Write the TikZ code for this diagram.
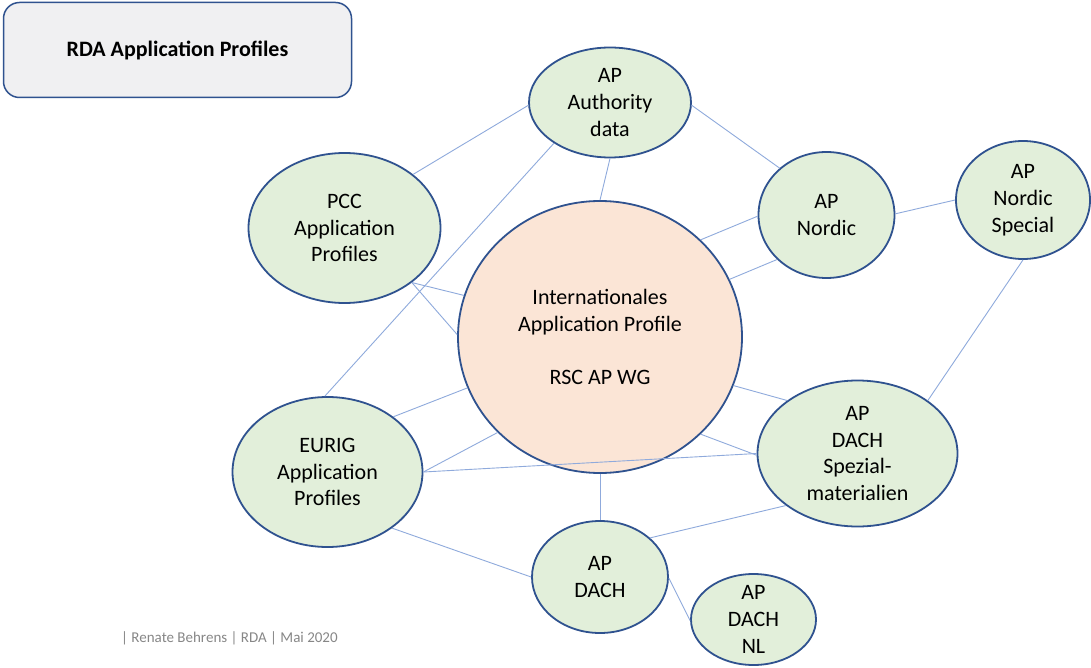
\documentclass[tikz,border=0pt]{standalone}
\usepackage{fontspec}
\setmainfont{Carlito}
\usetikzlibrary{shapes.geometric}
\definecolor{bord}{RGB}{47,82,143}
\definecolor{greenfill}{RGB}{226,239,218}
\definecolor{peach}{RGB}{251,229,214}
\definecolor{conn}{RGB}{143,170,220}
\definecolor{boxfill}{RGB}{240,240,242}
\definecolor{foot}{RGB}{135,135,135}
\begin{document}
\begin{tikzpicture}[x=1pt,y=-1pt,
  bubble/.style={ellipse, draw=bord, line width=1.8pt, fill=greenfill, inner sep=0pt},
  hub/.style={bubble, fill=peach},
  txt/.style={align=center, font=\fontsize{22}{26.8}\selectfont, inner sep=0pt},
  link/.style={draw=conn, line width=0.9pt}]
\useasboundingbox (0,0) rectangle (1091,668);
\fill[white] (0,0) rectangle (1091,668);
% title
\node[draw=bord, line width=1.5pt, fill=boxfill, rounded corners=16pt,
  minimum width=348pt, minimum height=95pt, inner sep=0pt] (title) at (177.5,50) {};
\node[font=\fontsize{22}{26.8}\selectfont\bfseries, inner sep=0pt] (title-t) at (title) {RDA Application Profiles};
% bubbles
\node[bubble, minimum width=162pt, minimum height=110pt] (auth) at (610,102.5) {};
\node[bubble, minimum width=192pt, minimum height=150pt] (pcc) at (344.5,228) {};
\node[hub, minimum width=284pt, minimum height=272pt] (hub) at (600,337) {};
\node[bubble, minimum width=136pt, minimum height=126pt] (nordic) at (826.5,215) {};
\node[bubble, minimum width=134pt, minimum height=118pt] (nspec) at (1023,200) {};
\node[bubble, minimum width=190pt, minimum height=150pt] (eurig) at (327.5,472) {};
\node[bubble, minimum width=200pt, minimum height=146pt] (dspez) at (857.5,453.5) {};
\node[bubble, minimum width=136pt, minimum height=112pt] (dach) at (600,577) {};
\node[bubble, minimum width=125pt, minimum height=91pt] (dnl) at (753.5,619.5) {};
% texts
\node[txt] (auth-t) at (auth) {AP\\Authority\\data};
\node[txt] (pcc-t) at (pcc) {PCC\\Application\\Profiles};
\node[txt] (hub-t) at (hub) {Internationales\\Application Profile\\[26.8pt]RSC AP WG};
\node[txt] (nordic-t) at (nordic) {AP\\Nordic};
\node[txt] (nspec-t) at (nspec) {AP\\Nordic\\Special};
\node[txt] (eurig-t) at (eurig) {EURIG\\Application\\Profiles};
\node[txt] (dspez-t) at (dspez) {AP\\DACH\\Spezial-\\materialien};
\node[txt] (dach-t) at (dach) {AP\\DACH};
\node[txt] (dnl-t) at (dnl) {AP\\DACH\\NL};
% connectors
\draw[link] (pcc.38.8) -- (auth.182);
\draw[link] (eurig.92.7) -- (auth.216.6);
\draw[link] (auth.270) -- (hub.90.5);
\draw[link] (auth.358) -- (nordic.135.9);
\draw[link] (hub.44.1) -- (nordic.181);
\draw[link] (hub.24) -- (nordic.222.3);
\draw[link] (nordic.1) -- (nspec.180);
\draw[link] (nspec.270) -- (dspez.37.2);
\draw[link] (hub.340.4) -- (dspez.143.3);
\draw[link] (hub.316.2) -- (dspez.181);
\draw[link] (eurig.0) -- (dspez.180.5);
\draw[link] (dach.38.7) -- (dspez.216.2);
\draw[link] (hub.270) -- (dach.90);
\draw[link] (dach.359) -- (dnl.181);
\draw[link] (eurig.319.5) -- (dach.180);
\draw[link] (eurig.40) -- (hub.201);
\draw[link] (eurig.0.5) -- (hub.223);
\draw[link] (pcc.321.7) -- (hub.163.8);
\draw[link] (pcc.321.7) -- (hub.179);
% footer
\node[anchor=west, text=foot, font=\fontsize{15}{18}\selectfont, inner sep=0pt] (footer) at (121,638) {| Renate Behrens | RDA | Mai 2020};
\end{tikzpicture}
\end{document}
